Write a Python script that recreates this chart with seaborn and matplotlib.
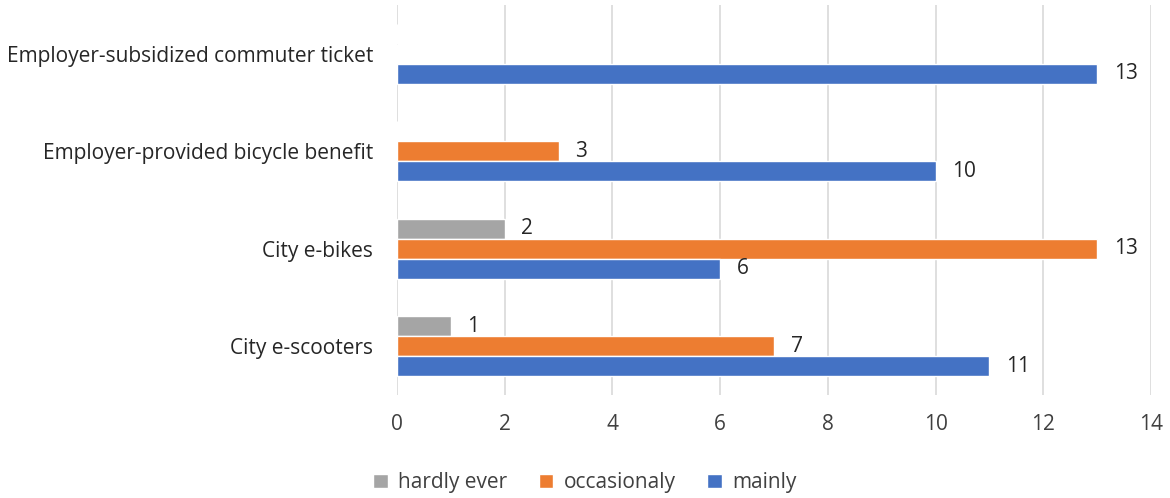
import pandas as pd
import matplotlib.pyplot as plt
import seaborn as sns

# Données
categories = ['Employer-subsidized commuter ticket', 'Employer-provided bicycle benefit',
              'City e-bikes', 'City e-scooters']
hardly_ever = [0, 0, 2, 1]
occasionaly = [0, 3, 13, 7]
mainly = [13, 10, 6, 11]
series = ['hardly ever', 'occasionaly', 'mainly']
couleurs = ['#A5A5A5', '#ED7D31', '#4472C4']

df = pd.DataFrame({'categorie': categories, 'hardly ever': hardly_ever,
                   'occasionaly': occasionaly, 'mainly': mainly})
df = df.melt(id_vars='categorie', var_name='frequence', value_name='nombre')

sns.set_style('white')
plt.rcParams['font.family'] = ['Open Sans', 'DejaVu Sans']

fig = plt.figure(figsize=(11.7, 4.98), dpi=100)
ax = fig.add_axes([0.3393, 0.207, 0.6445, 0.783])

sns.barplot(data=df, y='categorie', x='nombre', hue='frequence', order=categories,
            hue_order=series, palette=couleurs, width=0.615, orient='h', ax=ax,
            saturation=1, zorder=3)

# Étiquettes de valeur (on saute les zéros)
for cont in ax.containers:
    labels = [f'{int(v)}' if v > 0 else '' for v in cont.datavalues]
    ax.bar_label(cont, labels=labels, padding=12, fontsize=15, color='#262626')

ax.set_xlim(0, 14)
ax.set_xticks(range(0, 15, 2))
ax.xaxis.grid(True, color='#D9D9D9', linewidth=1.2, zorder=0)
ax.set_axisbelow(True)
for s in ax.spines.values():
    s.set_visible(False)
ax.set_xlabel('')
ax.set_ylabel('')
ax.tick_params(axis='x', labelsize=15, colors='#404040', pad=14, length=0)
ax.tick_params(axis='y', labelsize=15, colors='#262626', pad=17, length=0)

ax.legend(loc='lower center', bbox_to_anchor=(0.5, -0.028), bbox_transform=fig.transFigure,
          ncol=3, frameon=False, fontsize=15, handlelength=0.7, handleheight=0.7,
          columnspacing=1.5, handletextpad=0.5, labelcolor='#404040')

fig.savefig('out.png', dpi=100)
plt.close()
